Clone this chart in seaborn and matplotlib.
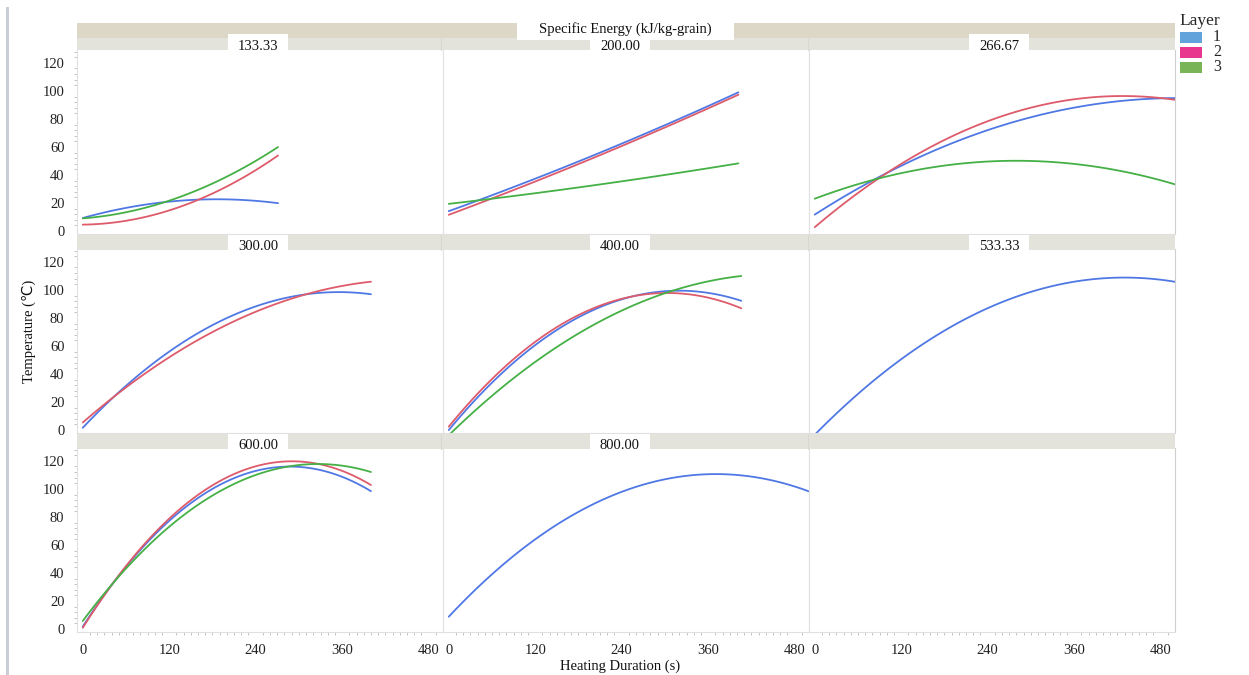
import numpy as np
import pandas as pd
import matplotlib
matplotlib.use('Agg')
import matplotlib.pyplot as plt
from matplotlib.patches import Rectangle
from matplotlib.lines import Line2D
import seaborn as sns

W, H = 1249, 675

# specific energy panels (kJ/kg-grain)
energies = ['133.33', '200.00', '266.67', '300.00', '400.00', '533.33', '600.00', '800.00']
layers = [1, 2, 3]
line_colors = ['#5078e4', '#dd5b6b', '#45b045']
legend_colors = ['#62a3dc', '#e8368f', '#79b457']
x_ticks = [0, 120, 240, 360, 480]
y_ticks = [0, 20, 40, 60, 80, 100, 120]

# heating duration (s) and temperature (degC)
t_133 = [0, 108, 164, 271]
T_133_l1 = [9.2, 20.8, 22.0, 20.0]
T_133_l2 = [4.5, 13.3, 22.7, 54.0]
T_133_l3 = [9.0, 20.0, 30.0, 60.0]

t_200 = [0, 195, 402]
T_200_l1 = [14.2, 52.8, 99.0]
T_200_l2 = [11.6, 51.0, 97.3]
T_200_l3 = [19.4, 32.2, 48.3]

t_267 = [0, 87, 269, 436, 500]
T_267_l1 = [11.6, 38.1, 77.0, 92.6, 95.4]
T_267_l2 = [2.1, 38.1, 83.0, 96.0, 94.0]
T_267_l3 = [22.7, 38.0, 49.7, 41.7, 33.4]

t_300 = [0, 38, 210, 306, 400]
T_300_l1 = [-1.0, 24.6, 82.0, 95.3, 97.7]
T_300_l2 = [3.1, 24.6, 77.3, 95.3, 106.5]

t_400 = [0, 120, 295, 406]
T_400_l1 = [0.0, 60.6, 98.9, 92.2]
T_400_l2 = [2.4, 63.0, 97.7, 86.9]
T_400_l3 = [-3.4, 47.9, 97.5, 109.6]

t_533 = [0, 169, 425, 500]
T_533_l1 = [-3.4, 67.7, 108.5, 106.0]

t_600 = [0, 117, 300, 400]
T_600_l1 = [0.7, 78.3, 113.0, 99.7]
T_600_l2 = [-0.5, 80.6, 116.0, 104.5]
T_600_l3 = [4.8, 74.0, 114.5, 113.3]

t_800 = [0, 149, 372, 500]
T_800_l1 = [8.6, 74.7, 110.0, 98.5]

series = [
    ('133.33', 1, t_133, T_133_l1), ('133.33', 2, t_133, T_133_l2), ('133.33', 3, t_133, T_133_l3),
    ('200.00', 1, t_200, T_200_l1), ('200.00', 2, t_200, T_200_l2), ('200.00', 3, t_200, T_200_l3),
    ('266.67', 1, t_267, T_267_l1), ('266.67', 2, t_267, T_267_l2), ('266.67', 3, t_267, T_267_l3),
    ('300.00', 1, t_300, T_300_l1), ('300.00', 2, t_300, T_300_l2),
    ('400.00', 1, t_400, T_400_l1), ('400.00', 2, t_400, T_400_l2), ('400.00', 3, t_400, T_400_l3),
    ('533.33', 1, t_533, T_533_l1),
    ('600.00', 1, t_600, T_600_l1), ('600.00', 2, t_600, T_600_l2), ('600.00', 3, t_600, T_600_l3),
    ('800.00', 1, t_800, T_800_l1),
]
df = pd.concat([pd.DataFrame({'energy': e, 'layer': l, 'duration': t, 'temp': T})
                for e, l, t, T in series], ignore_index=True)

sns.set_style('white')
serif = 'Liberation Serif'
plt.rcParams['font.family'] = [serif, 'DejaVu Sans']

fig, axes = plt.subplots(3, 3, figsize=(W / 100, H / 100), dpi=100, sharex=True, sharey=True)
fig.subplots_adjust(left=77 / W, right=1175 / W, top=1 - 50 / H, bottom=1 - 632 / H,
                    wspace=0, hspace=15 / 184)

for i, ax in enumerate(axes.flat):
    if i < len(energies):
        sub = df[df.energy == energies[i]]
        for l, c in zip(layers, line_colors):
            d = sub[sub.layer == l]
            if len(d):
                sns.regplot(data=d, x='duration', y='temp', order=2, ci=None, scatter=False,
                            color=c, line_kws={'lw': 1.3}, ax=ax)
    ax.set_xlabel('')
    ax.set_ylabel('')
    ax.set_xlim(-8, 500)
    ax.set_ylim(-2.1, 129.2)
    ax.set_xticks(x_ticks)
    ax.set_yticks(y_ticks)
    ax.set_xticks(np.arange(0, 500, 10), minor=True)
    ax.set_yticks(np.arange(0, 129, 4), minor=True)
    ax.tick_params(which='major', length=0, labelsize=10.5, pad=9, colors='#222222')
    ax.tick_params(which='minor', length=2.5, width=0.7, color='#c4c4c4', direction='out',
                   left=True, bottom=True)
    r, c = divmod(i, 3)
    if c != 0:
        ax.tick_params(axis='y', which='both', length=0)
    if r != 2:
        ax.tick_params(axis='x', which='both', length=0)
    ax.spines['top'].set_visible(False)
    for s in ['left', 'right', 'bottom']:
        ax.spines[s].set_color('#e0e0e0')
        ax.spines[s].set_linewidth(0.8)
    if c == 2:
        ax.spines['right'].set_color('#cfcfcf')


def box(x0, y0, x1, y1, color, z=3):
    fig.add_artist(Rectangle((x0 / W, 1 - y1 / H), (x1 - x0) / W, (y1 - y0) / H,
                             transform=fig.transFigure, facecolor=color, edgecolor='none', zorder=z))


# outer strip with facet title
box(77, 23, 1175, 37.5, '#dcd7c7')
box(517, 23, 734, 40, 'white', 4)
fig.text(625 / W, 1 - 29.5 / H, 'Specific Energy (kJ/kg-grain)', ha='center', va='center',
         fontsize=10.5, family=serif, color='#111111', zorder=5)

# row strips with panel labels
col_centers = [258, 620, 999]
strip_rows = [(37.5, 50, 34), (235, 249.5, 235), (434, 448.5, 434)]
for r, (y0, y1, by0) in enumerate(strip_rows):
    box(77, y0, 1175, y1, '#e4e3db')
    for c in range(3):
        i = r * 3 + c
        if i >= len(energies):
            continue
        cx = col_centers[c]
        box(cx - 30, by0, cx + 30, y1, 'white', 4)
        fig.text(cx / W, 1 - (y1 - 3) / H, energies[i], ha='center', va='center',
                 fontsize=10.5, family=serif, color='#111111', zorder=5)
    for xs in [441, 808]:
        fig.add_artist(Line2D([xs / W, xs / W], [1 - y0 / H, 1 - y1 / H], transform=fig.transFigure,
                              color='#d8d8d0', lw=0.8, zorder=3.5))

# axis titles
fig.text(620 / W, 1 - 666 / H, 'Heating Duration (s)', ha='center', va='center',
         fontsize=10.5, family=serif, color='#111111')
fig.text(29 / W, 1 - 331 / H, 'Temperature (℃)', ha='center', va='center', rotation=90,
         fontsize=10.5, family=[serif, 'DejaVu Sans'], color='#111111')

# legend
fig.text(1200 / W, 1 - 21 / H, 'Layer', ha='center', va='center', fontsize=12.5, family=serif)
for k, (lab, col) in enumerate(zip(layers, legend_colors)):
    yc = 37 + k * 15
    box(1180, yc - 5.5, 1202, yc + 5.5, col)
    fig.text(1217 / W, 1 - yc / H, str(lab), ha='center', va='center', fontsize=11.5, family=serif)

# left window edge
box(6, 7, 9, 675, '#c9ced6')

fig.savefig('out.png', dpi=100)
